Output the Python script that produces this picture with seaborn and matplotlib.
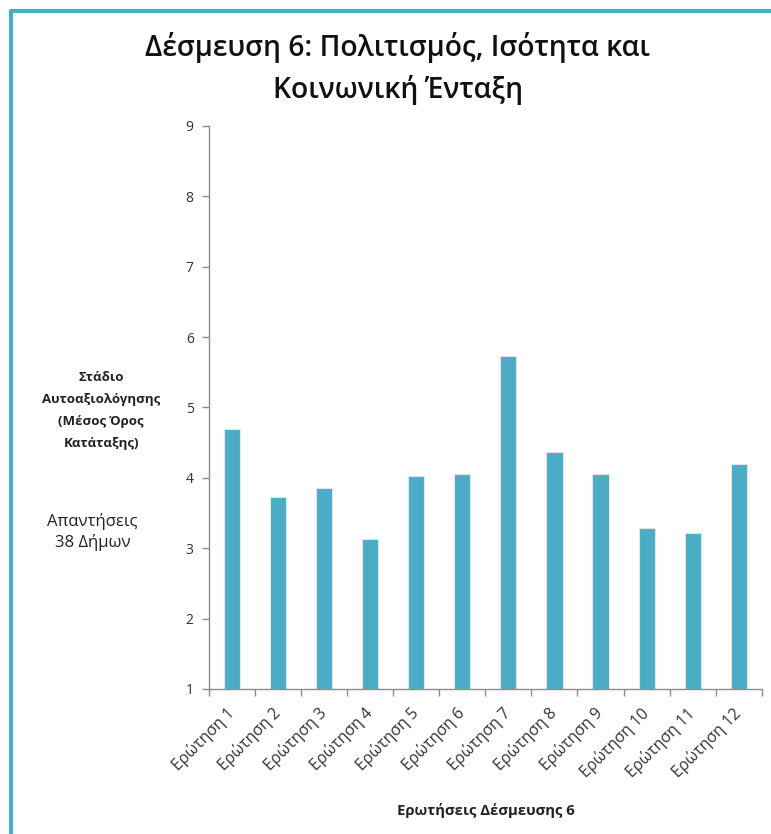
import numpy as np
import pandas as pd
import matplotlib
matplotlib.use('Agg')
import matplotlib.pyplot as plt
import seaborn as sns
from matplotlib.lines import Line2D

questions = ['Ερώτηση 1', 'Ερώτηση 2', 'Ερώτηση 3', 'Ερώτηση 4', 'Ερώτηση 5', 'Ερώτηση 6',
             'Ερώτηση 7', 'Ερώτηση 8', 'Ερώτηση 9', 'Ερώτηση 10', 'Ερώτηση 11', 'Ερώτηση 12']
scores = [4.69, 3.73, 3.85, 3.13, 4.02, 4.06, 5.73, 4.37, 4.06, 3.28, 3.21, 4.20]
y_ticks = [1, 2, 3, 4, 5, 6, 7, 8, 9]

title = 'Δέσμευση 6: Πολιτισμός, Ισότητα και\nΚοινωνική Ένταξη'
y_label = 'Στάδιο\nΑυτοαξιολόγησης\n(Μέσος Όρος\nΚατάταξης)'
note = 'Απαντήσεις\n38 Δήμων'
x_label = 'Ερωτήσεις Δέσμευσης 6'

sns.set_style('white')
plt.rcParams['font.family'] = ['Open Sans', 'DejaVu Sans']

bar_color = '#4bacc6'
axis_grey = '#8c8c8c'

df = pd.DataFrame({'Question': questions, 'Score': scores})

fig = plt.figure(figsize=(7.71, 8.34), dpi=100)
ax = fig.add_axes([0.271, 0.174, 0.717, 0.675])

# bars start at the bottom of the axis (value 1)
df['Height'] = df['Score'] - 1
sns.barplot(data=df, x='Question', y='Height', color=bar_color, width=0.35,
            saturation=1, ax=ax, bottom=1, edgecolor='#e4e4e4', linewidth=0.8)

ax.set_ylim(1, 9)
ax.set_yticks(y_ticks)
ax.set_xlim(-0.5, len(questions) - 0.5)
ax.set_xticks(np.arange(-0.5, len(questions), 1.0))
ax.set_xticklabels([])
ax.set_xticks(range(len(questions)), minor=True)
ax.set_xticklabels(questions, minor=True, rotation=45, ha='right', va='center',
                   rotation_mode='anchor', fontsize=11.5, color='#333333')
ax.tick_params(axis='x', which='minor', length=0, pad=16, bottom=True)
ax.tick_params(axis='x', which='major', length=5, width=1, color=axis_grey,
               direction='out', bottom=True)
ax.tick_params(axis='y', length=5, width=1, color=axis_grey, direction='out', left=True,
               labelsize=10, labelcolor='#333333', pad=6)
for k in ['top', 'right']:
    ax.spines[k].set_visible(False)
for k in ['left', 'bottom']:
    ax.spines[k].set_color(axis_grey)
    ax.spines[k].set_linewidth(1)
ax.set_xlabel('')
ax.set_ylabel('')

fig.text(0.516, 0.918, title, ha='center', va='center', fontsize=20.3,
         fontweight='semibold', linespacing=1.5, color='#111111')
fig.text(0.131, 0.508, y_label, ha='center', va='center', fontsize=9.5,
         fontweight='bold', linespacing=1.89, color='#222222')
fig.text(0.12, 0.362, note, ha='center', va='center', fontsize=12,
         linespacing=1.3, color='#222222')
fig.text(0.63, 0.028, x_label, ha='center', va='center', fontsize=10.7,
         fontweight='bold', color='#222222')

# frame lines of the chart area
fig.add_artist(Line2D([0.014, 1.0], [0.987, 0.987], color=bar_color, linewidth=3))
fig.add_artist(Line2D([0.014, 0.014], [0.0, 0.987], color=bar_color, linewidth=3))

fig.savefig('out.png', dpi=100)
